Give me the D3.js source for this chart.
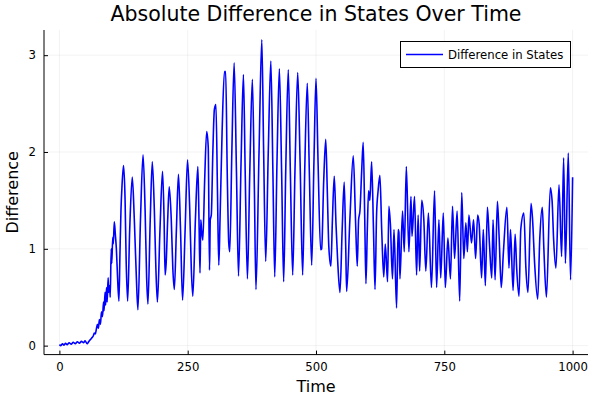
<!DOCTYPE html>
<html><head><meta charset="utf-8">
<script src="https://cdn.jsdelivr.net/npm/d3@7"></script>
<style>body{margin:0;background:#fff}svg{display:block}text{font-family:"DejaVu Sans",sans-serif;fill:#000}</style>
</head><body><svg id="c" width="600" height="400"></svg>
<script>
const chartTitle = "Absolute Difference in States Over Time";
const xLabel = "Time";
const yLabel = "Difference";
const seriesName = "Difference in States";
const xTicks = [0, 250, 500, 750, 1000];
const yTicks = [0, 1, 2, 3];
const time = [0,3,6,9,12,15,19,23,27,31,35,39,43,47,50,54,57,60,63,66,68,70,72,74,76,78,80,82,84,86,87,89,90,92,93,95,96,98,99,101,102,104,105,107,109,111,113,116,118,120,122,125,128,130,133,137,142,146,150,153,158,163,167,170,172.5,177,181,185,188,191,196,201,204,206,208,211,214,218,221,224,228,232,236,240,245,249.7,254,257,260,265,269.8,272,274,275.5,277,279.5,283,287,290,292.5,294,296,299,302,305,308,310.6,313,317,321.6,324,327,330,332,336,340.5,345,349,354,358.6,362,366.4,371,376,380,383,389,394.4,398,402,407,412,416,419.6,424,428.6,433,437,441,446,450,454.6,459,464.4,469,474,478,483,487,491.6,496,500,504,509,511,515,519,522,525,529,532,535.6,539,542,546.7,551,555,558,559.7,566,572.6,577,580.4,583,585.6,589,592,595,597.3,600,602.5,605,608.4,612,615,618,621,624.5,628,632,635,639.5,642,645,649,652,657,660,661.5,663.6,668.6,672,676,681,685,687,692,696,699,702,706,710,714,719,725,731,735,739.5,743,748,752,757,762,766,770,775,780,784,788,792,795,798,803,807,811,815,818,822.7,826,830,834,838,842.5,845,849,853.5,857,861,865,872,876,879,884,888,891,895.6,899,905,909,913,919,922,926,932,936,941,944,949,956.6,960,963,967.5,973.5,978.6,982.5,986,991.6,996,1000];
const difference = [0.01,0.0,0.02,0.005,0.025,0.01,0.03,0.015,0.035,0.02,0.04,0.025,0.045,0.03,0.05,0.02,0.04,0.06,0.08,0.1,0.13,0.12,0.17,0.22,0.18,0.27,0.22,0.35,0.3,0.45,0.36,0.55,0.42,0.6,0.45,0.7,0.55,0.62,0.5,1.0,0.85,1.12,1.05,1.28,1.15,1.0,0.75,0.46,0.95,1.4,1.65,1.86,1.5,0.9,0.46,1.2,1.74,1.3,0.7,0.37,1.3,1.97,1.4,0.7,0.43,1.3,1.9,1.4,0.8,0.45,1.2,1.8,1.3,0.73,0.85,1.3,1.64,1.3,0.8,0.58,1.2,1.77,1.2,0.47,1.2,1.92,1.4,0.8,0.51,1.3,1.85,1.3,0.75,1.3,1.2,1.09,1.7,2.21,2.05,0.78,1.3,1.35,2.0,2.44,2.49,1.6,0.83,1.3,2.2,2.83,2.83,1.8,1.06,0.97,2.0,2.92,1.8,0.72,1.9,2.8,1.8,0.69,1.8,2.75,1.6,0.58,2.0,3.16,2.0,0.87,2.0,2.94,1.8,0.71,1.9,2.86,1.8,0.66,1.8,2.85,1.8,0.73,1.8,2.82,1.9,0.73,1.8,2.71,1.8,0.83,1.9,2.76,1.9,0.99,1.0,1.7,2.13,1.6,1.02,0.82,1.3,1.75,1.25,0.9,0.55,1.2,1.69,1.0,0.56,1.3,1.96,1.3,0.82,1.3,1.39,1.8,2.1,1.3,0.64,1.2,1.6,1.5,1.9,1.2,0.58,1.35,1.6,1.76,1.2,0.71,1.05,0.66,1.44,1.25,0.69,1.2,0.39,1.2,1.17,0.69,1.39,0.97,1.85,0.97,1.54,1.13,1.54,0.73,1.35,0.77,1.5,1.31,0.77,1.37,0.6,1.6,0.6,1.3,0.7,1.37,0.6,1.11,0.69,1.44,0.9,1.39,0.46,1.58,0.9,1.27,0.97,1.35,1.06,1.3,0.9,1.35,1.25,0.7,1.2,0.62,1.43,1.05,0.7,1.3,0.68,1.49,1.1,0.6,0.95,1.43,0.8,1.2,0.57,1.15,0.8,0.51,1.2,1.37,0.8,0.55,1.47,1.3,0.85,0.48,1.1,1.43,1.0,0.5,1.63,1.5,1.1,0.8,1.66,0.92,1.94,0.85,1.99,0.68,1.74];

const svg = d3.select("#c");
const L = 44, R = 588, T = 30, B = 354.6;
const x = d3.scaleLinear().domain([-30, 1030]).range([L, R]);
const y = d3.scaleLinear().domain([-0.0925, 3.26]).range([B, T]);

// grid
const g = svg.append("g");
g.selectAll(".gx").data(xTicks).enter().append("line")
  .attr("x1", d => x(d)).attr("x2", d => x(d)).attr("y1", T).attr("y2", B)
  .attr("stroke", "#000").attr("stroke-opacity", 0.1).attr("stroke-width", 0.5);
g.selectAll(".gy").data(yTicks).enter().append("line")
  .attr("x1", L).attr("x2", R).attr("y1", d => y(d)).attr("y2", d => y(d))
  .attr("stroke", "#000").attr("stroke-opacity", 0.1).attr("stroke-width", 0.5);

// axes
const xAxis = d3.axisBottom(x).tickValues(xTicks).tickSizeInner(-4).tickSizeOuter(0).tickPadding(8).tickFormat(d3.format("d"));
const yAxis = d3.axisLeft(y).tickValues(yTicks).tickSizeInner(-4).tickSizeOuter(0).tickPadding(8).tickFormat(d3.format("d"));
const gx = svg.append("g").attr("transform", `translate(0,${B})`).call(xAxis);
const gy = svg.append("g").attr("transform", `translate(${L},0)`).call(yAxis);
[gx, gy].forEach(a => {
  a.select(".domain").attr("stroke", "#000").attr("stroke-width", 1);
  a.selectAll(".tick line").attr("stroke", "#000").attr("stroke-width", 1);
  a.selectAll(".tick text").attr("font-size", "11.7px").attr("font-family", "DejaVu Sans").attr("fill", "#000");
});
gx.select(".domain").attr("d", `M${L},0H${R}`);
gy.select(".domain").attr("d", `M0,${T}V${B}`);

// line
const data = time.map((t, i) => ({t, v: difference[i]}));
svg.append("path").datum(data)
  .attr("fill", "none").attr("stroke", "#0000ff").attr("stroke-width", 1.6).attr("stroke-linejoin", "round")
  .attr("d", d3.line().x(d => x(d.t)).y(d => y(d.v)).curve(d3.curveMonotoneX));

// title & labels
svg.append("text").attr("x", (L + R) / 2).attr("y", 21).attr("text-anchor", "middle")
  .attr("font-size", "20.5px").text(chartTitle);
svg.append("text").attr("x", (L + R) / 2).attr("y", 392).attr("text-anchor", "middle")
  .attr("font-size", "16px").text(xLabel);
svg.append("text").attr("transform", `translate(18,${(T + B) / 2}) rotate(-90)`).attr("text-anchor", "middle")
  .attr("font-size", "16px").text(yLabel);

// legend
const lg = svg.append("g");
lg.append("rect").attr("x", 400.5).attr("y", 41.5).attr("width", 170).attr("height", 26)
  .attr("fill", "#fff").attr("stroke", "#000").attr("stroke-width", 1);
lg.append("line").attr("x1", 406).attr("x2", 443).attr("y1", 54.5).attr("y2", 54.5)
  .attr("stroke", "#0000ff").attr("stroke-width", 1.6);
lg.append("text").attr("x", 448).attr("y", 58.7).attr("font-size", "11.7px").text(seriesName);
</script></body></html>
